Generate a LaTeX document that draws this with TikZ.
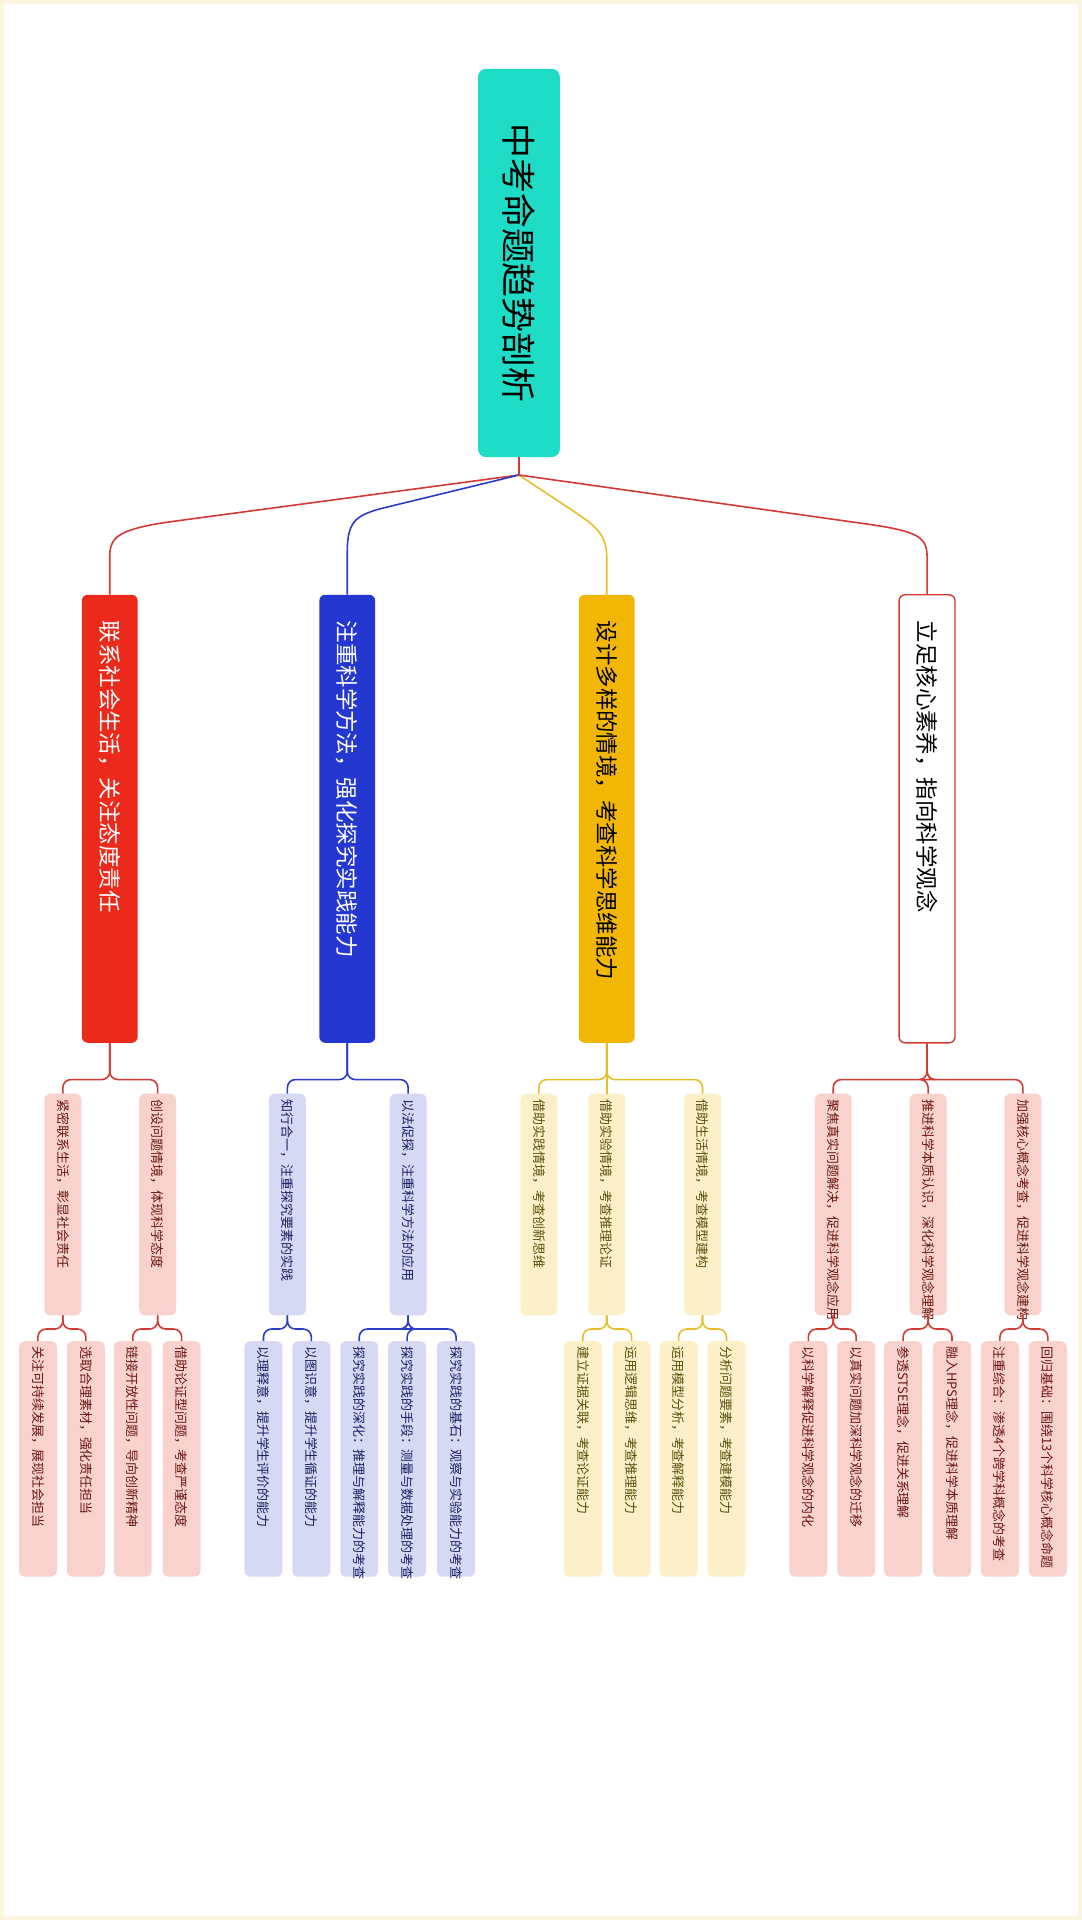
\documentclass[tikz,border=0pt]{standalone}
\usepackage{fontspec}
\usetikzlibrary{calc}
\setmainfont{Noto Sans CJK SC}
\definecolor{rootc}{HTML}{1EDCC6}
\definecolor{rA}{HTML}{EC2A1C}
\definecolor{bA}{HTML}{2437D0}
\definecolor{yA}{HTML}{F2B705}
\definecolor{rL}{HTML}{D23A33}
\definecolor{bL}{HTML}{2A3CC8}
\definecolor{yL}{HTML}{E6BE2A}
\definecolor{rF}{HTML}{F9D2CE}
\definecolor{bF}{HTML}{D5D9F4}
\definecolor{yF}{HTML}{FBF0C8}
\definecolor{rT}{HTML}{6A1712}
\definecolor{bT}{HTML}{1A2060}
\definecolor{yT}{HTML}{5E4F0E}
\begin{document}
\begin{tikzpicture}[x=1pt,y=-1pt,
  lvA/.style={rotate=-90,rounded corners=6pt,minimum width=449pt,minimum height=56pt,text width=397pt,inner xsep=26pt,align=left,font=\fontsize{22.5}{26}\selectfont},
  lvB/.style={rotate=-90,rounded corners=6pt,minimum width=222pt,minimum height=37pt,text width=210pt,inner xsep=6pt,align=left,font=\fontsize{13}{15}\selectfont},
  lvC/.style={rotate=-90,rounded corners=6pt,minimum width=236pt,minimum height=38pt,text width=226pt,inner xsep=5pt,align=left,font=\fontsize{13}{15}\selectfont},
  rB/.style={lvB,fill=rF,text=rT},rC/.style={lvC,fill=rF,text=rT},
  bB/.style={lvB,fill=bF,text=bT},bC/.style={lvC,fill=bF,text=bT},
  yB/.style={lvB,fill=yF,text=yT},yC/.style={lvC,fill=yF,text=yT},
  ln/.style={line width=1.6pt,rounded corners=9pt},
  br/.style={line width=1.6pt,rounded corners=8pt}]
\fill[white] (0,0) rectangle (1080,1920);
\draw[yF!60,line width=4pt] (0,0) rectangle (1080,1920);
% root
\node[rotate=-90,fill=rootc,rounded corners=8pt,minimum width=389pt,minimum height=82pt,font=\fontsize{35}{40}\selectfont] (root) at (518,261.5) {中考命题趋势剖析};
\coordinate (hub) at (518,474);
% level 1
\node[lvA,fill=rA,text=white] (A1) at (108,818.5) {联系社会生活，关注态度责任};
\node[lvA,fill=bA,text=white] (A2) at (346,818.5) {注重科学方法，强化探究实践能力};
\node[lvA,fill=yA,text=black] (A3) at (606,818.5) {设计多样的情境，考查科学思维能力};
\node[lvA,fill=white,draw=rL,line width=1.4pt,text=black] (A4) at (927,818.5) {立足核心素养，指向科学观念};
\draw[rL,line width=1.6pt] (root.east) -- (hub);
\draw[rL,ln] (hub) -- (160,522) .. controls (112,531) and (108,540) .. (108,565) -- (A1.west);
\draw[bL,ln] (hub) -- (370,510) .. controls (350,520) and (346,530) .. (346,560) -- (A2.west);
\draw[yL,ln] (hub) -- (580,515) .. controls (600,530) and (606,540) .. (606,565) -- (A3.west);
\draw[rL,ln] (hub) -- (880,525) .. controls (922,533) and (927,540) .. (927,565) -- (A4.west);
% level 2
\node[rB] (B1) at (61,1205) {紧密联系生活，彰显社会责任};
\node[rB] (B2) at (156,1205) {创设问题情境，体现科学态度};
\node[bB] (B3) at (286,1205) {知行合一，注重探究要素的实践};
\node[bB] (B4) at (407,1205) {以法促探，注重科学方法的应用};
\node[yB] (B5) at (538,1205) {借助实践情境，考查创新思维};
\node[yB] (B6) at (606,1205) {借助实验情境，考查推理论证};
\node[yB] (B7) at (702,1205) {借助生活情境，考查模型建构};
\node[rB] (B8) at (833,1205) {聚焦真实问题解决，促进科学观念应用};
\node[rB] (B9) at (928,1205) {推进科学本质认识，深化科学观念理解};
\node[rB] (B10) at (1023,1205) {加强核心概念考查，促进科学观念建构};
% level 3
\node[rC] (C1) at (36,1460) {关注可持续发展，展现社会担当};
\node[rC] (C2) at (84,1460) {选取合理素材，强化责任担当};
\node[rC] (C3) at (131,1460) {链接开放性问题，导向创新精神};
\node[rC] (C4) at (180,1460) {借助论证型问题，考查严谨态度};
\node[bC] (C5) at (262,1460) {以理释意，提升学生评价的能力};
\node[bC] (C6) at (310,1460) {以图识意，提升学生循证的能力};
\node[bC] (C7) at (358,1460) {探究实践的深化：推理与解释能力的考查};
\node[bC] (C8) at (406,1460) {探究实践的手段：测量与数据处理的考查};
\node[bC] (C9) at (455,1460) {探究实践的基石：观察与实验能力的考查};
\node[yC] (C10) at (582,1460) {建立证据关联，考查论证能力};
\node[yC] (C11) at (631,1460) {运用逻辑思维，考查推理能力};
\node[yC] (C12) at (678,1460) {运用模型分析，考查解释能力};
\node[yC] (C13) at (726,1460) {分析问题要素，考查建模能力};
\node[rC] (C14) at (808,1460) {以科学解释促进科学观念的内化};
\node[rC] (C15) at (856,1460) {以真实问题加深科学观念的迁移};
\node[rC] (C16) at (903,1460) {参透STSE理念，促进关系理解};
\node[rC] (C17) at (952,1460) {融入HPS理念，促进科学本质理解};
\node[rC] (C18) at (1000,1460) {注重综合：渗透4个跨学科概念的考查};
\node[rC] (C19) at (1048,1460) {回归基础：围绕13个科学核心概念命题};
% brackets
\foreach \p/\c/\col in {A1/B1/rL,A1/B2/rL,A2/B3/bL,A2/B4/bL,A3/B5/yL,A3/B6/yL,A3/B7/yL,A4/B8/rL,A4/B9/rL,A4/B10/rL}
  \draw[br,\col] (\p.east) |- ($(\c.west)+(0,-14)$) -- (\c.west);
\foreach \p/\c/\col in {B1/C1/rL,B1/C2/rL,B2/C3/rL,B2/C4/rL,B3/C5/bL,B3/C6/bL,B4/C7/bL,B4/C8/bL,B4/C9/bL,B6/C10/yL,B6/C11/yL,B7/C12/yL,B7/C13/yL,B8/C14/rL,B8/C15/rL,B9/C16/rL,B9/C17/rL,B10/C18/rL,B10/C19/rL}
  \draw[br,\col] (\p.east) |- ($(\c.west)+(0,-12)$) -- (\c.west);
\end{tikzpicture}
\end{document}
